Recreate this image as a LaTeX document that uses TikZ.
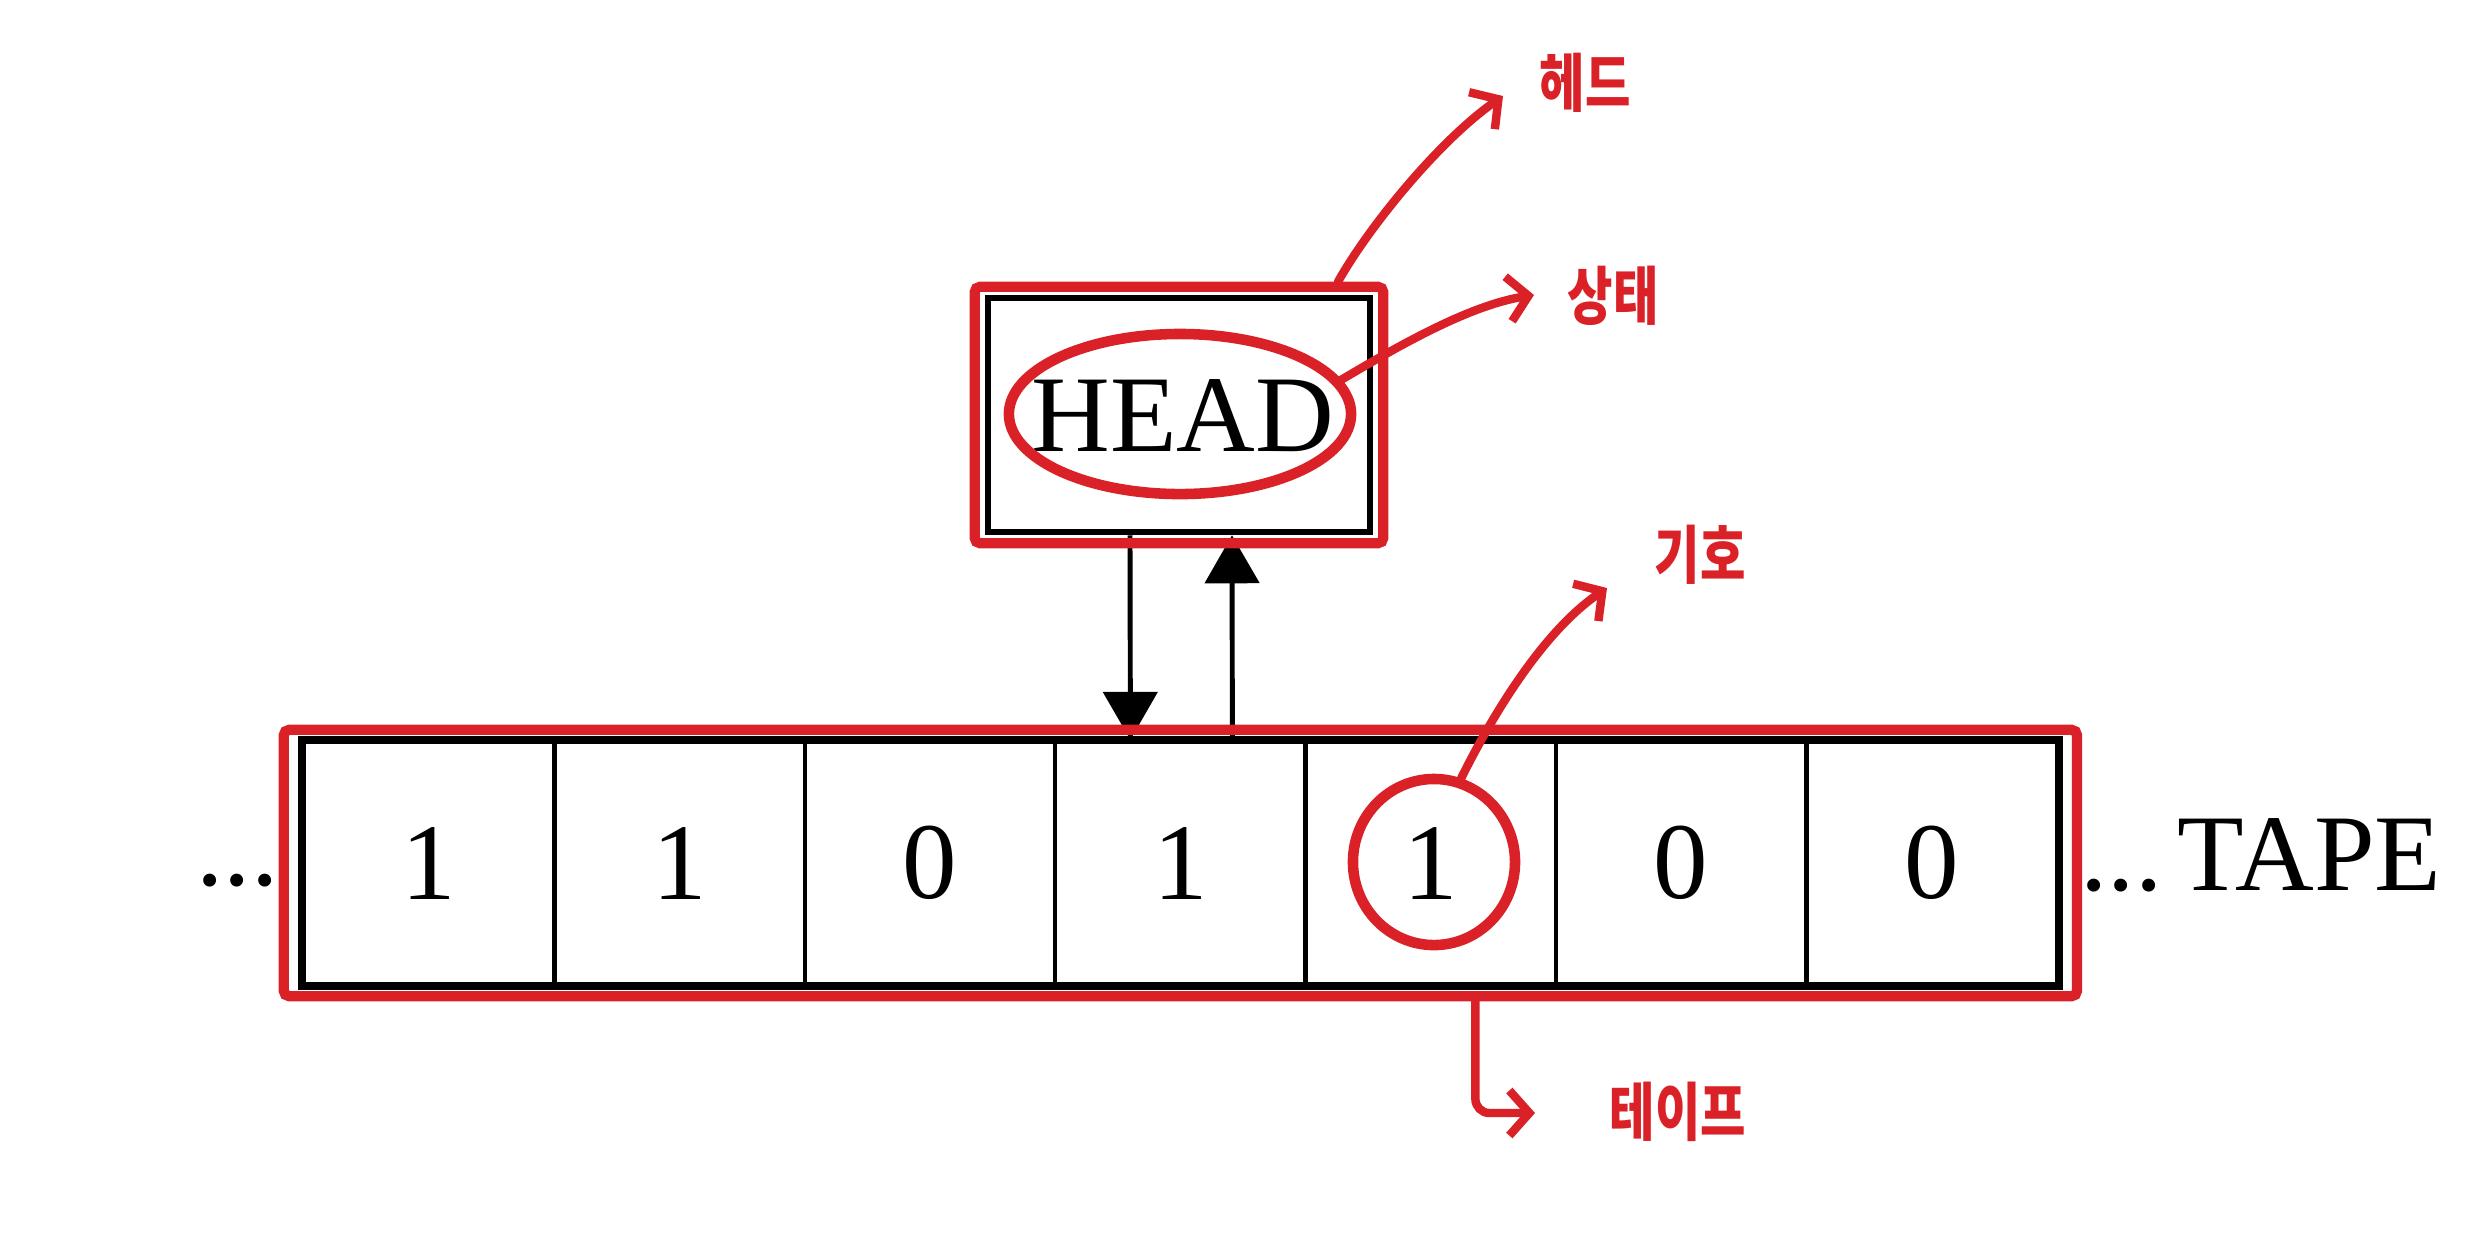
\documentclass[tikz,border=0pt]{standalone}
\usepackage{fontspec}
\setmainfont{Liberation Serif}
\newfontfamily\hangul{Noto Sans CJK KR}[FakeStretch=0.78]
\usetikzlibrary{arrows.meta,calc,fit,shapes.geometric}
\definecolor{penred}{RGB}{218,33,39}

\begin{document}
\begin{tikzpicture}[x=0.01cm,y=-0.01cm,
    bigtext/.style={font=\fontsize{31}{31}\selectfont},
    cellbox/.style={draw,line width=1.2pt,minimum width=2.504cm,minimum height=2.42cm,inner sep=0pt,bigtext},
    redframe/.style={draw=penred,line width=2.9pt,rounded corners=1.5pt},
    redring/.style={draw=penred,line width=3pt,ellipse,inner sep=0pt},
    redarrow/.style={penred,line width=2.4pt,line cap=round,-{Straight Barb[length=0.2cm,width=0.45cm]}},
    moveline/.style={line width=1.4pt,-{Triangle[length=0.48cm,width=0.54cm]}},
    note/.style={text=penred,inner sep=0pt,font=\hangul\bfseries\fontsize{18}{18}\selectfont}]
    \useasboundingbox (0,0) rectangle (2468,1256);

    % head
    \node[draw,line width=1.8pt,minimum width=3.82cm,minimum height=2.34cm] (headbox) at (1179,415) {};
    \node[bigtext] (headtxt) at (1183,416) {HEAD};

    % tape
    \foreach \d [count=\i] in {1,1,0,1,1,0,0}
        \node[cellbox] (c\i) at ({304+250.4*(\i-0.5)},863) {\d};
    \draw[line width=2pt] (c1.north west) rectangle (c7.south east);
    \node[bigtext,anchor=base east,inner sep=0pt] (ldots) at (279,885) {...};
    \node[bigtext,anchor=base west,inner sep=0pt] (rtape) at (2080,890) {...\kern0.14em TAPE};

    % read / write
    \draw[moveline] ($(headbox.south)+(-49,0)$) -- ($(c4.north)+(-50,0)$);
    \draw[moveline] ($(c4.north)+(52,0)$) -- ($(headbox.south)+(53,0)$);

    % red marks
    \node[redframe,fit=(headbox),inner xsep=0.1cm,inner ysep=0.08cm] (headred) {};
    \node[redframe,fit=(c1)(c7),inner xsep=0.18cm,inner ysep=0.1cm] (tapered) {};
    \node[redring,minimum width=3.42cm,minimum height=1.6cm] (state) at (1180,414) {};
    \node[redring,minimum width=1.62cm,minimum height=1.66cm] (symb) at (1434,862) {};

    % notes
    \node[note] (headlbl) at (1585,83) {헤드};
    \node[note] (statelbl) at (1613,296) {상태};
    \node[note] (symblbl) at (1700,555) {기호};
    \node[note] (tapelbl) at (1678,1112) {테이프};

    \coordinate (headtip) at (1503,96);
    \coordinate (statetip) at (1534,295);
    \coordinate (symbtip) at (1607,588);
    \coordinate (tapetip) at (1535,1113);

    \draw[redarrow] ($(headred.north)+(159,0)$) .. controls (1370,225) and (1440,140) .. (headtip);
    \draw[redarrow] (state.12) .. controls (1400,345) and (1470,305) .. (statetip);
    \draw[redarrow] (symb.72) .. controls (1495,710) and (1545,630) .. (symbtip);
    \draw[redarrow,rounded corners=4pt] ($(tapered.south)+(295,0)$) |- (tapetip);
\end{tikzpicture}
\end{document}
